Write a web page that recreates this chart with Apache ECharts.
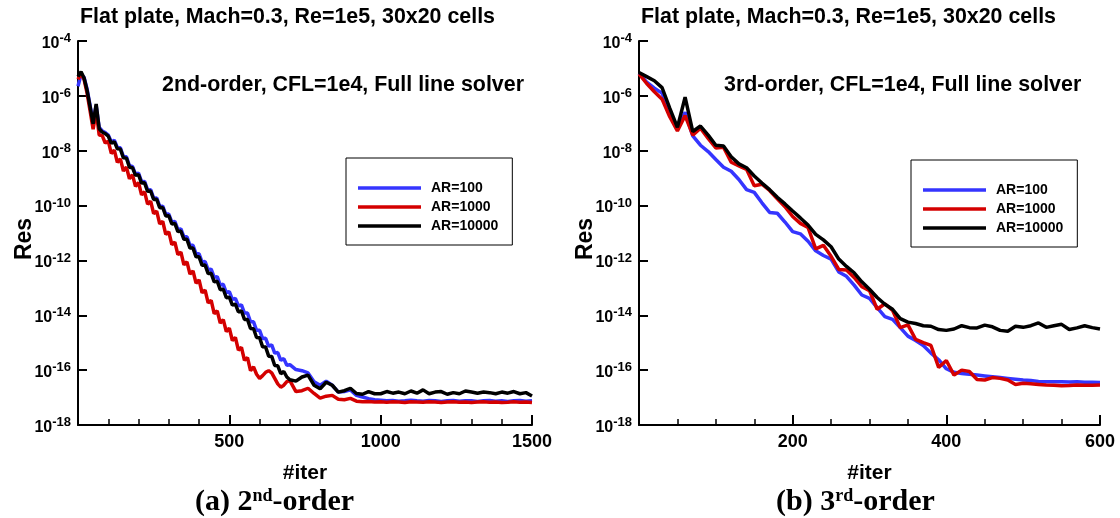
<!DOCTYPE html>
<html>
<head>
<meta charset="utf-8">
<script src="https://cdn.jsdelivr.net/npm/echarts@6/dist/echarts.min.js"></script>
<style>
  html, body { margin: 0; padding: 0; background: #fff; }
  #chart { width: 1120px; height: 518px; }
</style>
</head>
<body>
<div id="chart"></div>
<script>
// Residual histories, stored as log10(Res) against iteration count.

// (a) 2nd-order scheme
const iter2nd = [
  0, 10, 20, 30, 40, 50, 60, 70, 80, 90,
  100, 110, 120, 130, 140, 150, 160, 170, 180, 190,
  200, 210, 220, 230, 240, 250, 260, 270, 280, 290,
  300, 310, 320, 330, 340, 350, 360, 370, 380, 390,
  400, 410, 420, 430, 440, 450, 460, 470, 480, 490,
  500, 510, 520, 530, 540, 550, 560, 570, 580, 590,
  600, 610, 620, 630, 640, 650, 660, 670, 680, 690,
  700,
  720, 740, 760, 780, 800, 820, 840, 860, 880, 900,
  920, 940, 960, 980, 1000, 1020, 1040, 1060, 1080, 1100,
  1120, 1140, 1160, 1180, 1200, 1220, 1240, 1260, 1280, 1300,
  1320, 1340, 1360, 1380, 1400, 1420, 1440, 1460, 1480, 1500
];
const logRes2ndAR100 = [
  -5.65, -5.22, -5.32, -5.75, -6.35, -6.95, -6.35, -7.15, -7.28, -7.34,
  -7.43, -7.68, -7.62, -7.88, -7.89, -8.21, -8.22, -8.55, -8.57, -8.85,
  -8.82, -9.13, -9.12, -9.43, -9.42, -9.73, -9.72, -10.03, -10.02, -10.32,
  -10.31, -10.60, -10.58, -10.87, -10.85, -11.14, -11.14, -11.45, -11.45, -11.76,
  -11.76, -12.06, -12.04, -12.34, -12.32, -12.62, -12.59, -12.90, -12.87, -13.17,
  -13.14, -13.42, -13.38, -13.66, -13.62, -13.92, -13.92, -14.24, -14.24, -14.55,
  -14.55, -14.85, -14.84, -15.13, -15.08, -15.38, -15.36, -15.64, -15.58, -15.82,
  -15.80,
  -15.98, -16.02, -16.10, -16.42, -16.55, -16.40, -16.55, -16.80, -16.78, -16.72,
  -16.92, -16.98, -17.04, -17.08, -17.10, -17.12, -17.11, -17.13, -17.12, -17.10,
  -17.12, -17.13, -17.11, -17.12, -17.14, -17.12, -17.11, -17.13, -17.12, -17.12,
  -17.14, -17.12, -17.11, -17.13, -17.12, -17.14, -17.12, -17.11, -17.13, -17.12
];
const logRes2ndAR1000 = [
  -5.40, -5.18, -5.40, -5.90, -6.55, -7.22, -6.55, -7.43, -7.45, -7.72,
  -7.65, -8.10, -7.98, -8.42, -8.30, -8.74, -8.60, -9.02, -8.88, -9.30,
  -9.16, -9.61, -9.50, -9.95, -9.84, -10.29, -10.20, -10.67, -10.58, -11.05,
  -10.96, -11.42, -11.33, -11.79, -11.70, -12.16, -12.05, -12.50, -12.38, -12.83,
  -12.71, -13.18, -13.08, -13.55, -13.46, -13.94, -13.84, -14.28, -14.16, -14.59,
  -14.47, -14.92, -14.81, -15.27, -15.17, -15.64, -15.54, -16.02, -15.88, -16.15,
  -16.30, -16.20, -16.08, -16.02, -16.10, -16.30, -16.50, -16.62, -16.55, -16.42,
  -16.38,
  -16.78, -16.75, -16.66, -16.85, -17.02, -16.95, -16.92, -17.06, -17.08, -17.03,
  -17.13, -17.15, -17.14, -17.16, -17.15, -17.17, -17.15, -17.16, -17.18, -17.15,
  -17.16, -17.17, -17.15, -17.16, -17.18, -17.16, -17.15, -17.17, -17.16, -17.18,
  -17.16, -17.15, -17.17, -17.16, -17.18, -17.17, -17.15, -17.17, -17.16, -17.18
];
const logRes2ndAR10000 = [
  -5.30, -5.12, -5.35, -5.80, -6.40, -7.02, -6.30, -7.20, -7.32, -7.38,
  -7.47, -7.73, -7.67, -7.93, -7.94, -8.26, -8.27, -8.60, -8.62, -8.90,
  -8.87, -9.18, -9.17, -9.48, -9.47, -9.78, -9.77, -10.08, -10.07, -10.38,
  -10.37, -10.67, -10.65, -10.95, -10.93, -11.23, -11.23, -11.55, -11.55, -11.87,
  -11.87, -12.18, -12.17, -12.48, -12.47, -12.78, -12.76, -13.07, -13.05, -13.36,
  -13.34, -13.63, -13.59, -13.88, -13.84, -14.15, -14.15, -14.48, -14.49, -14.81,
  -14.82, -15.15, -15.16, -15.49, -15.50, -15.83, -15.84, -16.13, -16.05, -16.25,
  -16.35,
  -16.40, -16.25, -16.18, -16.55, -16.68, -16.44, -16.55, -16.80, -16.75, -16.66,
  -16.85, -16.88, -16.78, -16.86, -16.86, -16.78, -16.84, -16.80, -16.86, -16.76,
  -16.84, -16.72, -16.86, -16.80, -16.78, -16.88, -16.82, -16.86, -16.76, -16.80,
  -16.84, -16.80, -16.82, -16.86, -16.80, -16.84, -16.78, -16.86, -16.82, -16.94
];

// (b) 3rd-order scheme
const iter3rd = [
  0, 10, 20, 30, 40, 50, 60, 70, 80, 90,
  100, 110, 120, 130, 140, 150, 160, 170, 180, 190,
  200, 210, 220, 230, 240, 250, 260, 270, 280, 290,
  300, 310, 320, 330, 340, 350, 360, 370, 380, 390,
  400, 410, 420, 430, 440, 450, 460, 470, 480, 490,
  500, 510, 520, 530, 540, 550, 560, 570, 580, 590,
  600
];
const logRes3rdAR100 = [
  -5.18, -5.50, -5.72, -5.90, -6.60, -7.22, -6.60, -7.46, -7.80, -8.03,
  -8.32, -8.60, -8.75, -9.05, -9.42, -9.52, -9.90, -10.25, -10.28, -10.60,
  -10.95, -11.03, -11.30, -11.65, -11.82, -11.95, -12.42, -12.58, -12.90, -13.26,
  -13.38, -13.72, -14.05, -14.15, -14.45, -14.76, -14.92, -15.10, -15.38, -15.62,
  -15.95, -16.08, -16.12, -16.15, -16.18, -16.21, -16.24, -16.27, -16.30, -16.33,
  -16.36, -16.38, -16.41, -16.42, -16.42, -16.42, -16.43, -16.42, -16.44, -16.44,
  -16.45
];
const logRes3rdAR1000 = [
  -5.20, -5.55, -5.85, -6.12, -6.76, -7.28, -6.72, -7.43, -7.18, -7.55,
  -7.90, -7.87, -8.42, -8.55, -8.68, -9.28, -9.22, -9.45, -9.75, -10.04,
  -10.40, -10.65, -10.80, -11.58, -11.45, -11.85, -12.33, -12.35, -12.62, -12.96,
  -13.10, -13.78, -13.58, -13.82, -14.45, -14.35, -14.88, -15.00, -15.10, -15.90,
  -15.65, -16.18, -16.00, -16.05, -16.34, -16.36, -16.27, -16.30, -16.36, -16.52,
  -16.48, -16.50, -16.52, -16.54, -16.55, -16.57, -16.56, -16.54, -16.55, -16.55,
  -16.54
];
const logRes3rdAR10000 = [
  -5.15, -5.30, -5.45, -5.70, -6.45, -7.15, -6.05, -7.30, -7.10, -7.43,
  -7.80, -7.83, -8.22, -8.48, -8.62, -8.92, -9.18, -9.42, -9.70, -9.94,
  -10.20, -10.45, -10.71, -11.05, -11.25, -11.50, -11.95, -12.22, -12.45, -12.78,
  -13.05, -13.35, -13.60, -13.78, -14.12, -14.25, -14.30, -14.38, -14.40, -14.52,
  -14.55, -14.50, -14.38, -14.45, -14.46, -14.36, -14.42, -14.55, -14.58, -14.40,
  -14.44, -14.38, -14.28, -14.44, -14.38, -14.33, -14.52, -14.46, -14.38, -14.45,
  -14.50
];

const seriesNames = ['AR=100', 'AR=1000', 'AR=10000'];
const seriesColors = ['#3535ff', '#d40000', '#000000'];
const yExponents = [-18, -16, -14, -12, -10, -8, -6, -4];

const SANS = 'Liberation Sans';
const SERIF = 'Liberation Serif';

function pairs(xs, ys) {
  return xs.map((x, i) => [x, ys[i]]);
}

function makeYAxis(gridIndex) {
  return {
    type: 'value', gridIndex,
    min: yExponents[0], max: yExponents[yExponents.length - 1], interval: 2,
    name: 'Res', nameLocation: 'middle', nameRotate: 90, nameGap: 42,
    nameMoveOverlap: false,
    nameTextStyle: { fontFamily: SANS, fontWeight: 'bold', fontSize: 23, color: '#000', padding: [0, 12, 0, 0] },
    axisLine: { show: true, onZero: false, lineStyle: { color: '#000', width: 2 } },
    axisTick: { show: true, inside: true, length: 9, lineStyle: { color: '#000', width: 2 } },
    splitLine: { show: false },
    axisLabel: {
      margin: 7,
      formatter: v => '{b|10}{s|' + v + '}',
      rich: {
        b: { fontFamily: SANS, fontWeight: 'bold', fontSize: 16, color: '#000', lineHeight: 18, padding: [5, 0, 0, 0] },
        s: { fontFamily: SANS, fontWeight: 'bold', fontSize: 13, color: '#000', lineHeight: 13, verticalAlign: 'top' }
      }
    }
  };
}

function makeXAxis(gridIndex, max, interval, minorSplit) {
  return {
    type: 'value', gridIndex, min: 0, max, interval,
    name: '#iter', nameLocation: 'middle', nameGap: 38,
    nameMoveOverlap: false,
    nameTextStyle: { fontFamily: SANS, fontWeight: 'bold', fontSize: 21, color: '#000' },
    axisLine: { show: true, onZero: false, lineStyle: { color: '#000', width: 2 } },
    axisTick: { show: true, inside: true, length: 10, lineStyle: { color: '#000', width: 2 } },
    minorTick: { show: true, splitNumber: minorSplit, length: 6, lineStyle: { color: '#000', width: 1.5 } },
    splitLine: { show: false },
    minorSplitLine: { show: false },
    axisLabel: {
      margin: 8, showMinLabel: false,
      formatter: v => (v === 0 ? '' : String(v)),
      fontFamily: SANS, fontWeight: 'bold', fontSize: 18, color: '#000'
    }
  };
}

function makeSeries(gridIndex, xs, ys, k) {
  return {
    type: 'line', name: seriesNames[k],
    xAxisIndex: gridIndex, yAxisIndex: gridIndex,
    data: pairs(xs, ys),
    symbol: 'none', smooth: false,
    color: seriesColors[k],
    lineStyle: { color: seriesColors[k], width: 3.5 },
    z: 2 + k
  };
}

function makeLegend(left, top) {
  return {
    orient: 'vertical', left, top,
    data: seriesNames,
    icon: 'rect',
    itemWidth: 63, itemHeight: 3.5, itemGap: 5,
    padding: [23, 14, 12, 12],
    borderColor: '#000', borderWidth: 1,
    textStyle: { fontFamily: SANS, fontWeight: 'bold', fontSize: 14, color: '#000', padding: [0, 0, 0, 5] },
    selectedMode: false
  };
}

const titleFont = { fontFamily: SANS, fontWeight: 'bold', fontSize: 21.4, color: '#000' };
const captionFont = {
  fontFamily: SERIF, fontWeight: 'bold', fontSize: 30, color: '#000',
  rich: { sup: { fontFamily: SERIF, fontWeight: 'bold', fontSize: 18, color: '#000', verticalAlign: 'top', lineHeight: 18 } }
};

const option = {
  animation: false,
  backgroundColor: '#fff',
  title: [
    { text: 'Flat plate, Mach=0.3, Re=1e5, 30x20 cells', left: 80, top: 7, padding: 0, textStyle: titleFont },
    { text: 'Flat plate, Mach=0.3, Re=1e5, 30x20 cells', left: 641, top: 7, padding: 0, textStyle: titleFont },
    { text: '2nd-order, CFL=1e4, Full line solver', left: 162, top: 75, padding: 0, textStyle: titleFont },
    { text: '3rd-order, CFL=1e4, Full line solver', left: 724, top: 75, padding: 0, textStyle: titleFont },
    { text: '(a) 2{sup|nd}-order', left: 195, top: 487, padding: 0, textStyle: captionFont },
    { text: '(b) 3{sup|rd}-order', left: 776, top: 487, padding: 0, textStyle: captionFont }
  ],
  legend: [makeLegend(346, 158), makeLegend(911, 160)],
  grid: [
    { left: 78, top: 41, width: 454, height: 384 },
    { left: 639, top: 41, width: 461, height: 384 }
  ],
  xAxis: [makeXAxis(0, 1500, 500, 5), makeXAxis(1, 600, 200, 4)],
  yAxis: [makeYAxis(0), makeYAxis(1)],
  series: [
    makeSeries(0, iter2nd, logRes2ndAR100, 0),
    makeSeries(0, iter2nd, logRes2ndAR1000, 1),
    makeSeries(0, iter2nd, logRes2ndAR10000, 2),
    makeSeries(1, iter3rd, logRes3rdAR100, 0),
    makeSeries(1, iter3rd, logRes3rdAR1000, 1),
    makeSeries(1, iter3rd, logRes3rdAR10000, 2)
  ]
};

const chart = echarts.init(document.getElementById('chart'), null, { renderer: 'canvas' });
chart.setOption(option);
</script>
</body>
</html>
